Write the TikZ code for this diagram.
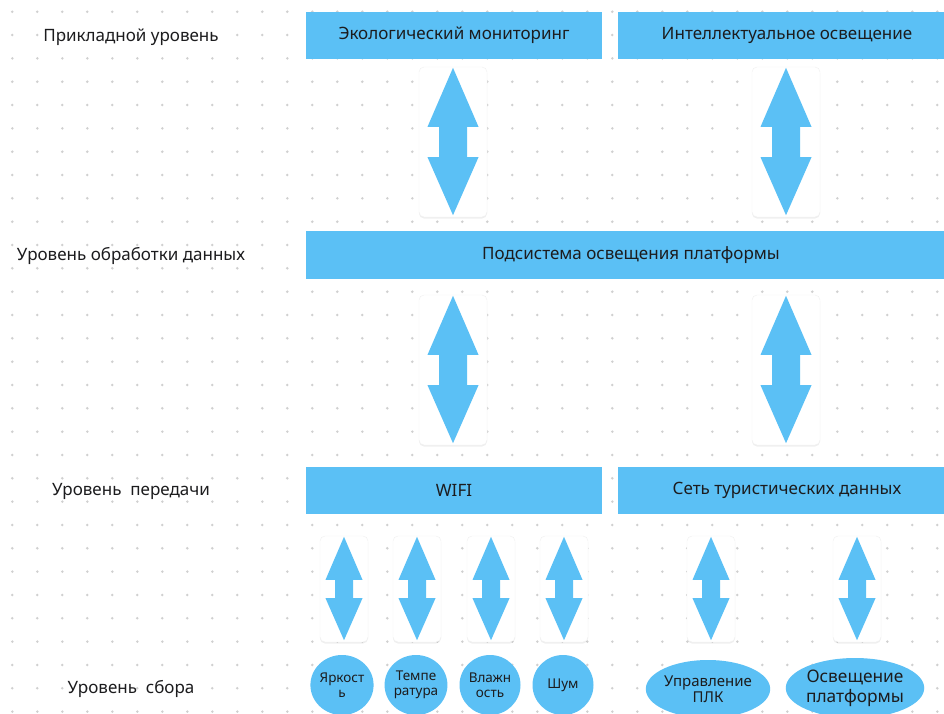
\documentclass[tikz,border=0pt]{standalone}
\usepackage{fontspec}
\setmainfont{Noto Sans}
\usetikzlibrary{shapes.geometric,shadows,calc}
\definecolor{boxblue}{RGB}{91,192,245}
\definecolor{dotgray}{RGB}{208,208,208}
\definecolor{inkdark}{RGB}{28,28,30}
\tikzset{
    layer/.style={fill=boxblue, text=inkdark, minimum height=47, inner sep=0, font=\fontsize{17}{20}\selectfont},
    level/.style={text=inkdark, font=\fontsize{17}{20}\selectfont},
    card/.style={fill=white, draw=gray!12, rounded corners=5, drop shadow={opacity=0.12, shadow xshift=0pt, shadow yshift=-1.5pt}},
    sensor/.style={ellipse, fill=boxblue, text=inkdark, inner sep=0, align=center, font=\fontsize{13.5}{15}\selectfont},
}
\newcommand{\dblarrow}[4]{%
    \fill[boxblue] let \p1=(#1.north), \p2=(#1.south) in
        (\x1,\y1-1pt) -- (\x1+#2pt,\y1-#4pt) -- (\x1+#3pt,\y1-#4pt) -- (\x1+#3pt,\y2+#4pt)
        -- (\x1+#2pt,\y2+#4pt) -- (\x1,\y2+2pt) -- (\x1-#2pt,\y2+#4pt) -- (\x1-#3pt,\y2+#4pt)
        -- (\x1-#3pt,\y1-#4pt) -- (\x1-#2pt,\y1-#4pt) -- cycle;}

\begin{document}
\begin{tikzpicture}[x=1pt, y=-1pt]
    \useasboundingbox (0,0) rectangle (944,713);
    \fill[white] (0,0) rectangle (944,713);
    \foreach \i in {0,...,37} {
        \foreach \j in {0,...,30} {
            \fill[dotgray] (12.3+25*\i, 11.7+23.33*\j) circle (1.4);
        }
    }

    \node[level] (app) at (131,37) {Прикладной уровень};
    \node[level] (proc) at (131,256) {Уровень обработки данных};
    \node[level] (trans) at (131,491) {Уровень\ \ передачи};
    \node[level] (coll) at (131,689) {Уровень\ \ сбора};

    \node[layer, minimum width=296] (eco) at (454,35) {Экологический мониторинг};
    \node[layer, minimum width=338] (smart) at (787,35) {Интеллектуальное освещение};
    \node[layer, minimum width=650, minimum height=48] (platform) at (631,255) {Подсистема освещения платформы};
    \node[layer, minimum width=296] (wifi) at (454,490) {WIFI};
    \node[layer, minimum width=338] (tour) at (787,490) {Сеть туристических данных};

    \node[card, minimum width=68, minimum height=150] (c1) at (453,142) {};
    \node[card, minimum width=68, minimum height=150] (c2) at (786,142) {};
    \node[card, minimum width=68, minimum height=150] (c3) at (453,370) {};
    \node[card, minimum width=68, minimum height=150] (c4) at (786,370) {};
    \foreach \px/\cname in {344/c5, 417/c6, 491/c7, 564/c8, 711/c9, 857/c10} {
        \node[card, minimum width=48, minimum height=106] (\cname) at (\px,589) {};
    }
    \foreach \cname in {c1, c2, c3, c4} {
        \dblarrow{\cname}{25.5}{14}{60}
    }
    \foreach \cname in {c5, c6, c7, c8, c9, c10} {
        \dblarrow{\cname}{18.5}{9}{44}
    }

    \node[sensor, minimum width=61, minimum height=60] (bright) at (342,685) {Яркост\\ь};
    \node[sensor, minimum width=61, minimum height=60] (temp) at (416,685) {Темпе\\ратура};
    \node[sensor, minimum width=61, minimum height=60] (humid) at (490,685) {Влажн\\ость};
    \node[sensor, minimum width=61, minimum height=60] (noise) at (563,685) {Шум};
    \node[sensor, minimum width=114, minimum height=58, font=\fontsize{15}{16}\selectfont] (plc) at (708,689) {Управление\\ПЛК};
    \node[sensor, minimum width=116, minimum height=60, font=\fontsize{17.3}{20}\selectfont] (lamp) at (855,688) {Освещение\\платформы};
\end{tikzpicture}
\end{document}
